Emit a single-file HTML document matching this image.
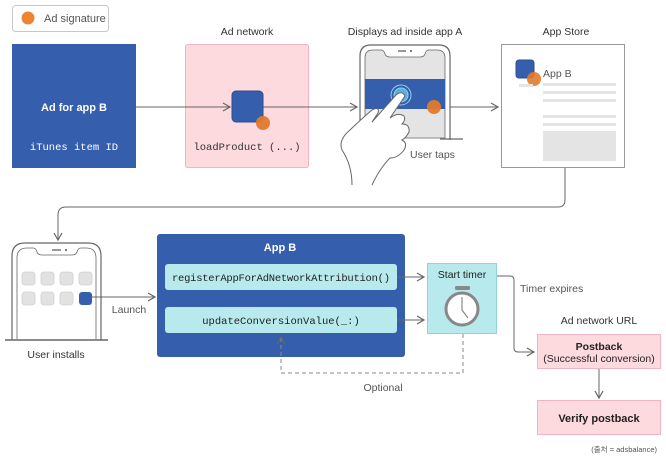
<!DOCTYPE html>
<html><head><meta charset="utf-8"><style>
html,body{margin:0;padding:0;background:#fff;}
svg{display:block;font-family:"Liberation Sans","Noto Sans CJK KR",sans-serif;}
.m{font-family:"Liberation Mono",monospace;}
</style></head><body>
<svg width="666" height="462" viewBox="0 0 666 462" xmlns="http://www.w3.org/2000/svg">
<defs>
<marker id="ar" markerWidth="10" markerHeight="10" refX="8" refY="5" orient="auto" markerUnits="userSpaceOnUse">
<path d="M1,1 L8,5 L1,9" fill="none" stroke="#666" stroke-width="1.2"/></marker>
</defs>
<rect x="12.5" y="5.5" width="96" height="26" rx="3" fill="#fff" stroke="#c8c8c8"/>
<circle cx="28" cy="18" r="6.5" fill="#ec8533"/>
<text x="44" y="22" font-size="11" fill="#555">Ad signature</text>

<rect x="12" y="44" width="124" height="124" fill="#355fad"/>
<text x="74" y="111" font-size="11" font-weight="bold" fill="#fff" text-anchor="middle">Ad for app B</text>
<text x="74" y="150" font-size="10.5" fill="#fff" text-anchor="middle" class="m">iTunes item ID</text>

<text x="247" y="35" font-size="10.5" fill="#333" text-anchor="middle">Ad network</text>
<rect x="185.5" y="44.5" width="123" height="123" rx="2" fill="#fcdade" stroke="#f2b3c2"/>
<line x1="136" y1="107" x2="230" y2="107" stroke="#666" stroke-width="1" marker-end="url(#ar)"/>
<line x1="263" y1="107" x2="357" y2="107" stroke="#666" stroke-width="1" marker-end="url(#ar)"/>
<rect x="232" y="91" width="31" height="31" rx="4" fill="#355fad" stroke="#2a4e93"/>
<circle cx="263" cy="123" r="7" fill="#e27a2a" opacity="0.95"/>
<text x="247" y="150" font-size="10.5" fill="#333" text-anchor="middle" class="m">loadProduct (...)</text>

<text x="405" y="35" font-size="10.5" fill="#333" text-anchor="middle">Displays ad inside app A</text>
<path d="M360,140 L360,56 Q360,45 371,45 L439,45 Q450,45 450,56 L450,140" fill="#fff" stroke="#666" stroke-width="1.2"/>
<path d="M365,138 L365,58 Q365,50 373,50 L381,50 Q384,50 385,54 Q386,57 390,57 L420,57 Q424,57 425,54 Q426,50 429,50 L437,50 Q445,50 445,58 L445,138 Z" fill="#e4e4e4" stroke="#666" stroke-width="0.8"/>
<line x1="398" y1="51" x2="406" y2="51" stroke="#555" stroke-width="1.2"/>
<circle cx="411" cy="51" r="1" fill="#555"/>
<line x1="440" y1="139" x2="463" y2="139" stroke="#666" stroke-width="1.2"/>
<rect x="365" y="79" width="80" height="30" fill="#355fad"/>
<circle cx="401" cy="95" r="10" fill="none" stroke="#8fd0ea" stroke-width="1"/>
<circle cx="401" cy="95" r="7" fill="#5aaee0" stroke="#8fd0ea"/>
<circle cx="434" cy="107" r="7" fill="#e27a2a" opacity="0.95"/>
<path d="M352,185 Q352,165 342,150 Q338,140 350,130 Q358,122 372,110 Q380,106 378,113 L372,122 L396,95 Q402,90 405,96 L390,118 Q398,112 404,116 Q406,120 402,124 Q410,124 409,132 Q406,138 402,140 Q408,143 404,150 Q398,158 390,158 Q380,168 372,185" fill="#fff" stroke="#666" stroke-width="1"/>
<text x="410" y="158" font-size="10.5" fill="#555">User taps</text>

<line x1="450" y1="107" x2="498" y2="107" stroke="#666" stroke-width="1" marker-end="url(#ar)"/>
<text x="566" y="35" font-size="10.5" fill="#333" text-anchor="middle">App Store</text>
<rect x="501.5" y="44.5" width="123" height="123" fill="#fff" stroke="#999" stroke-width="1"/>
<rect x="516" y="60" width="18" height="18" rx="3" fill="#355fad" stroke="#2a4e93"/>
<circle cx="534" cy="79" r="7" fill="#e27a2a" opacity="0.9"/>
<text x="543" y="77" font-size="10.5" fill="#555">App B</text>
<g fill="#e4e4e4">
<rect x="519" y="84" width="14" height="3"/>
<rect x="543" y="83" width="73" height="3"/>
<rect x="543" y="91" width="73" height="3"/>
<rect x="543" y="99" width="73" height="3"/>
<rect x="543" y="115" width="73" height="3"/>
<rect x="543" y="123" width="73" height="3"/>
<rect x="543" y="131" width="73" height="30"/>
</g>
<path d="M565,168 L565,200 Q565,207 558,207 L66,207 Q58,207 58,215 L58,240" fill="none" stroke="#666" stroke-width="1" marker-end="url(#ar)"/>

<path d="M12,340 L12,256 Q12,243 25,243 L88,243 Q101,243 101,256 L101,340" fill="#fff" stroke="#666" stroke-width="1.2"/>
<path d="M17,339 L17,258 Q17,248 27,248 L33,248 Q36,248 37,252 Q38,255 42,255 L72,255 Q76,255 77,252 Q78,248 81,248 L86,248 Q96,248 96,258 L96,339" fill="#fff" stroke="#666" stroke-width="0.8"/>
<line x1="52" y1="250" x2="61" y2="250" stroke="#555" stroke-width="1.2"/>
<circle cx="66" cy="250" r="1" fill="#555"/>
<line x1="5" y1="340" x2="108" y2="340" stroke="#666" stroke-width="1.5"/>
<g fill="#e2e2e2" stroke="#cfcfcf" stroke-width="0.8">
<rect x="22" y="272" width="13" height="13" rx="3"/><rect x="41" y="272" width="13" height="13" rx="3"/><rect x="60" y="272" width="13" height="13" rx="3"/><rect x="79" y="272" width="13" height="13" rx="3"/>
<rect x="22" y="292" width="13" height="13" rx="3"/><rect x="41" y="292" width="13" height="13" rx="3"/><rect x="60" y="292" width="13" height="13" rx="3"/>
</g>
<rect x="79" y="292" width="13" height="13" rx="3" fill="#355fad"/>
<text x="56" y="358" font-size="10.5" fill="#333" text-anchor="middle">User installs</text>
<line x1="92" y1="297" x2="155" y2="297" stroke="#666" stroke-width="1" marker-end="url(#ar)"/>
<text x="129" y="313" font-size="10.5" fill="#555" text-anchor="middle">Launch</text>

<rect x="157" y="234" width="248" height="123" rx="3" fill="#355fad"/>
<text x="280" y="251" font-size="11" font-weight="bold" fill="#fff" text-anchor="middle">App B</text>
<rect x="165" y="264" width="232" height="26" rx="3" fill="#b7e9ed"/>
<rect x="165" y="307" width="232" height="26" rx="3" fill="#b7e9ed"/>
<text x="281" y="281" font-size="10.5" fill="#222" text-anchor="middle" class="m" textLength="218">registerAppForAdNetworkAttribution()</text>
<text x="281" y="324" font-size="10.5" fill="#222" text-anchor="middle" class="m">updateConversionValue(_:)</text>
<line x1="397" y1="277" x2="424" y2="277" stroke="#666" stroke-width="1" marker-end="url(#ar)"/>
<line x1="397" y1="320" x2="424" y2="320" stroke="#666" stroke-width="1" marker-end="url(#ar)"/>

<rect x="427.5" y="263.5" width="69" height="70" fill="#b7e9ed" stroke="#8fd3dd"/>
<text x="462" y="278" font-size="10.5" fill="#222" text-anchor="middle">Start timer</text>
<rect x="455" y="286" width="15" height="4" rx="1.5" fill="#888"/>
<circle cx="462" cy="309" r="16" fill="#fff" stroke="#888" stroke-width="3"/>
<path d="M462,297 L462,310 L468,318" fill="none" stroke="#888" stroke-width="1.2"/>
<path d="M463,334 L463,373 L281,373 L281,337" fill="none" stroke="#888" stroke-width="1" stroke-dasharray="4,3" marker-end="url(#ar)"/>
<text x="383" y="391" font-size="10.5" fill="#555" text-anchor="middle">Optional</text>
<path d="M497,276 L510,276 Q514,276 514,280 L514,348 Q514,352 518,352 L534,352" fill="none" stroke="#666" stroke-width="1" marker-end="url(#ar)"/>
<text x="520" y="292" font-size="10.5" fill="#555">Timer expires</text>

<text x="599" y="324" font-size="10.5" fill="#333" text-anchor="middle">Ad network URL</text>
<rect x="537.5" y="334.5" width="123" height="34" fill="#fcdade" stroke="#f2b3c2"/>
<text x="599" y="350" font-size="10.5" font-weight="bold" fill="#222" text-anchor="middle">Postback</text>
<text x="599" y="362" font-size="10.5" fill="#222" text-anchor="middle">(Successful conversion)</text>
<line x1="599" y1="369" x2="599" y2="398" stroke="#666" stroke-width="1" marker-end="url(#ar)"/>
<rect x="537.5" y="400.5" width="123" height="34" fill="#fcdade" stroke="#f2b3c2"/>
<text x="599" y="422" font-size="11" font-weight="bold" fill="#222" text-anchor="middle">Verify postback</text>
<text x="657" y="452" font-size="7.5" fill="#555" text-anchor="end">(출처 = adsbalance)</text>
</svg>
</body></html>
